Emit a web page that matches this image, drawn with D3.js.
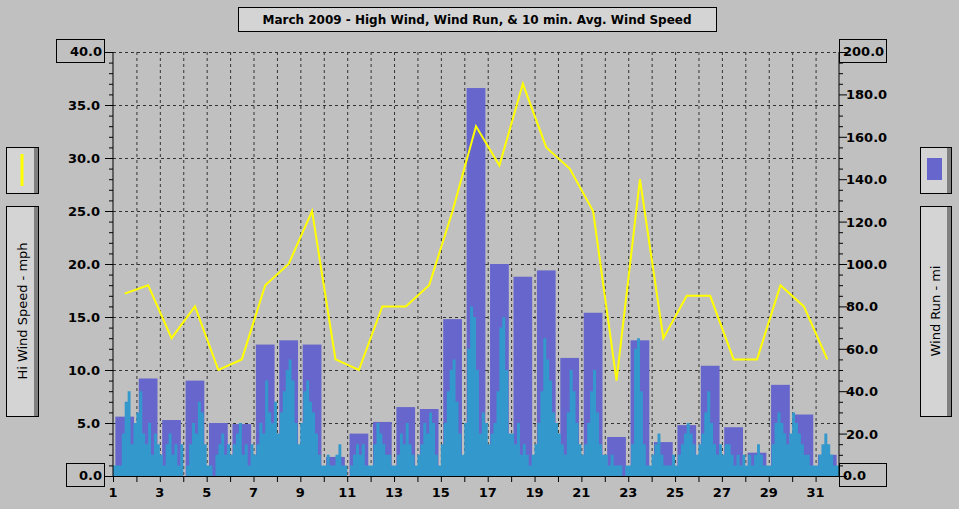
<!DOCTYPE html>
<html><head><meta charset="utf-8">
<script src="https://cdn.jsdelivr.net/npm/d3@7"></script>
<style>body{margin:0;background:#c0c0c0}svg{display:block;font-family:"DejaVu Sans",sans-serif}</style>
</head><body><svg id="c" width="959" height="509"></svg>
<script>
'use strict';
const days = d3.range(1, 32);
// daily high wind, mph (left axis)
const hiWind = [17.2,18,13,16,10,11,18,20,25,11,10,16,16,18,25,33,29.3,37,31,29,25,9,28,13,17,17,11,11,18,16,11];
// daily wind run, mi (right axis)
const windRun = [28,46,26.4,45,25,24.5,62,64,62,9,20,25.5,32.5,31.6,74,183,100,94,97,55.7,77,18.4,64,16,24,52,23,11,43,29,10];
// 10 min avg wind speed, 8 samples per day (mph)
const avgWind = [
  [1,1,1,4,7,8,3,5],[6,8,4,3,5,2,4,3],[2,1,3,4,2,3,1,3],[0,1,3,5,4,7,6,3],
  [1,1,0,2,3,4,2,3],[2,3,4,5,2,3,1,3],[2,3,5,4,9,6,5,7],[4,6,8,10,11,9,5,3],
  [5,8,9,7,6,4,2,1],[1,2,1,1,2,3,1,1],[0,1,2,3,2,3,1,1],[1,3,5,4,3,2,2,1],
  [1,2,4,3,5,3,2,1],[2,3,5,4,6,5,2,1],[3,5,8,10,11,7,4,2],[5,12,16,15,10,4,6,5],
  [3,4,5,8,14,15,10,4],[4,3,5,2,3,2,1,2],[3,5,8,13,11,9,6,5],[4,3,2,6,10,8,5,3],
  [2,3,5,8,10,6,3,2],[2,1,2,1,1,1,0,1],[1,3,12,13,8,3,1,1],[2,3,4,2,1,1,1,2],
  [1,2,3,4,5,4,3,2],[3,4,6,8,5,3,2,3],[2,3,3,2,1,2,1,2],[1,2,1,2,3,2,1,1],
  [1,3,5,6,5,4,3,4],[6,5,4,3,2,2,1,1],[1,2,3,4,3,2,1,1]
];
const xTicks = d3.range(1, 33, 2);
const leftTicks = d3.range(0, 45, 5);
const rightTicks = d3.range(0, 220, 20);

const svg = d3.select('#c');
const L = 113, R = 839, T = 52, B = 476;
const x = d3.scaleLinear().domain([1, 32]).range([L, R]);
const yL = d3.scaleLinear().domain([0, 40]).range([B, T]);
const yR = d3.scaleLinear().domain([0, 200]).range([B, T]);

// grid
const g = svg.append('g').attr('stroke', '#333').attr('stroke-dasharray', '3,3').attr('stroke-width', 1);
d3.range(2, 32).forEach(d => g.append('line').attr('x1', x(d)+.5).attr('x2', x(d)+.5).attr('y1', T).attr('y2', B));
leftTicks.slice(1).forEach(v => g.append('line').attr('x1', L).attr('x2', R).attr('y1', yL(v)+.5).attr('y2', yL(v)+.5));

// wind run bars
svg.append('g').selectAll('rect').data(windRun).join('rect')
  .attr('x', (v, i) => x(days[i] + 0.1)).attr('width', x(1.9) - x(1.1))
  .attr('y', v => yR(v)).attr('height', v => B - yR(v)).attr('fill', '#6666cc');

// 10 min avg area
const pts = [];
avgWind.forEach((arr, i) => arr.forEach((v, j) => pts.push([days[i] + j / 8, v])));
pts.push([32, 1]);
svg.append('path').datum(pts)
  .attr('d', d3.area().curve(d3.curveStepAfter).x(d => x(d[0])).y0(B).y1(d => yL(d[1])))
  .attr('fill', '#3399cc');

// high wind line
svg.append('path').datum(hiWind)
  .attr('d', d3.line().x((v, i) => x(days[i] + 0.5)).y(v => yL(v)))
  .attr('fill', 'none').attr('stroke', '#ffff00').attr('stroke-width', 2);

// axes
const ax = svg.append('g').attr('stroke', '#000');
ax.append('line').attr('x1', L).attr('x2', L).attr('y1', T).attr('y2', B+1);
ax.append('line').attr('x1', R).attr('x2', R).attr('y1', T).attr('y2', B+1);
ax.append('line').attr('x1', L).attr('x2', R).attr('y1', B+.5).attr('y2', B+.5);
d3.range(0, 40.1, 1).forEach(v => ax.append('line').attr('x1', L - (v % 5 ? 4 : 8)).attr('x2', L).attr('y1', yL(v)+.5).attr('y2', yL(v)+.5));
d3.range(0, 200.1, 5).forEach(v => ax.append('line').attr('x1', R).attr('x2', R + (v % 20 ? 4 : 8)).attr('y1', yR(v)+.5).attr('y2', yR(v)+.5));
d3.range(1, 33).forEach(d => ax.append('line').attr('x1', x(d)+.5).attr('x2', x(d)+.5).attr('y1', B).attr('y2', B + 6));

const txt = svg.append('g').attr('font-weight', 'bold').attr('font-size', 13);
xTicks.forEach(d => txt.append('text').attr('x', x(d)).attr('y', B + 21).attr('text-anchor', 'middle').text(d));
leftTicks.slice(1, -1).forEach(v => txt.append('text').attr('x', 100).attr('y', yL(v) + 5).attr('text-anchor', 'end').text(v.toFixed(1)));
rightTicks.slice(1, -1).forEach(v => txt.append('text').attr('x', 846).attr('y', yR(v) + 5).text(v.toFixed(1)));

function box(x0, y0, w, h, t, anchor) {
  svg.append('rect').attr('x', x0 + .5).attr('y', y0 + .5).attr('width', w).attr('height', h).attr('fill', 'none').attr('stroke', '#000');
  if (t) txt.append('text').attr('x', anchor === 'end' ? x0 + w - 2 : x0 + 4).attr('y', y0 + 17).attr('text-anchor', anchor || 'start').text(t);
}
box(56, 39, 48, 23, '40.0', 'end');
box(66, 463, 38, 23, '0.0', 'end');
box(839, 39, 47, 23, '200.0');
box(839, 463, 47, 23, '0.0');

// title
svg.append('rect').attr('x', 238.5).attr('y', 7.5).attr('width', 478).attr('height', 24).attr('fill', '#d4d4d4').attr('stroke', '#000');
svg.append('text').attr('x', 477).attr('y', 24).attr('text-anchor', 'middle').attr('font-size', 12).attr('font-weight', 'bold')
  .text('March 2009 - High Wind, Wind Run, & 10 min. Avg. Wind Speed');

function panel(x0, y0, w, h) {
  svg.append('rect').attr('x', x0 + .5).attr('y', y0 + .5).attr('width', w).attr('height', h).attr('fill', '#d4d4d4').attr('stroke', '#000');
  svg.append('rect').attr('x', x0 + w - 4).attr('y', y0 + 1).attr('width', 4).attr('height', h - 1).attr('fill', '#808080');
}
panel(6, 147, 32, 46);
svg.append('line').attr('x1', 22).attr('x2', 22).attr('y1', 154).attr('y2', 186).attr('stroke', '#ffff00').attr('stroke-width', 3);
panel(6, 206, 32, 210);
svg.append('text').attr('transform', 'translate(27,311) rotate(-90)').attr('text-anchor', 'middle').attr('font-size', 13).text('Hi Wind Speed - mph');
panel(920, 147, 31, 46);
svg.append('rect').attr('x', 927).attr('y', 158).attr('width', 15).attr('height', 22).attr('fill', '#6666cc');
panel(920, 206, 31, 210);
svg.append('text').attr('transform', 'translate(940,311) rotate(-90)').attr('text-anchor', 'middle').attr('font-size', 13).text('Wind Run - mi');
</script></body></html>
